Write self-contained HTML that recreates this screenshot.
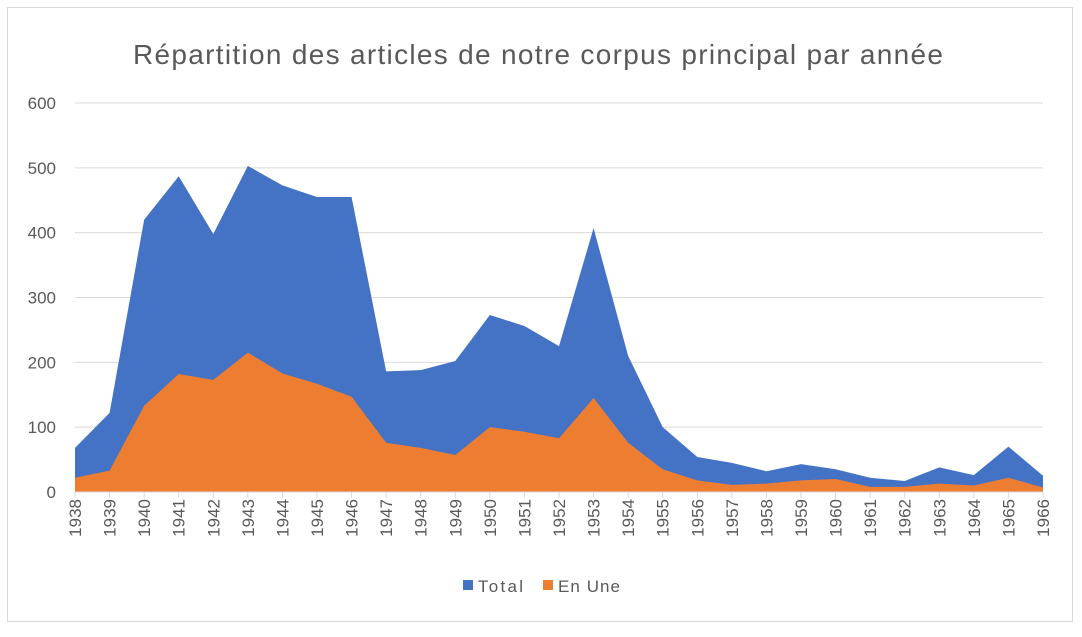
<!DOCTYPE html>
<html><head><meta charset="utf-8"><style>
body{margin:0;background:#fff;font-family:"Liberation Sans",sans-serif;}
svg text{font-family:"Liberation Sans",sans-serif;fill:#595959;}
</style></head><body>
<svg id="chart" width="1082" height="632" xmlns="http://www.w3.org/2000/svg">
<rect x="7.5" y="7.5" width="1065" height="614" fill="#fff" stroke="#d9d9d9"/>
<text x="133" y="64" font-size="28" textLength="810" lengthAdjust="spacing">Répartition des articles de notre corpus principal par année</text>
<g id="grid"></g><g id="areas"></g><g id="yt"></g><g id="xt"></g>
<g>
<rect x="463" y="580" width="10" height="10" fill="#4472c4"/>
<text x="478" y="592" font-size="17" textLength="45">Total</text>
<rect x="543" y="580" width="10" height="10" fill="#ed7d31"/>
<text x="558" y="592" font-size="17" textLength="62">En Une</text>
</g>
</svg>
<script>
const years=[1938,1939,1940,1941,1942,1943,1944,1945,1946,1947,1948,1949,1950,1951,1952,1953,1954,1955,1956,1957,1958,1959,1960,1961,1962,1963,1964,1965,1966];
const totalValues=[68,122,420,487,398,503,473,455,455,186,188,202,273,256,225,407,210,100,54,45,32,43,35,22,17,38,26,70,25];
const enUneValues=[22,33,133,182,173,215,183,167,147,76,68,57,100,93,83,145,76,35,18,11,13,18,20,8,8,13,10,22,7];
const yTicks=[0,100,200,300,400,500,600];
const NS="http://www.w3.org/2000/svg";
const x0=75,x1=1043,y0=492,y1=103;
const xs=i=>x0+(x1-x0)*i/(years.length-1);
const ys=v=>y0-(y0-y1)*v/600;
function el(t,a,p){const e=document.createElementNS(NS,t);for(const k in a)e.setAttribute(k,a[k]);document.getElementById(p).appendChild(e);return e;}
yTicks.forEach(v=>{
 const l=el('line',{x1:x0,x2:x1,y1:ys(v),y2:ys(v),stroke:'#d9d9d9'},'grid');
 
 
 const t=el('text',{x:56,y:ys(v)+6,'text-anchor':'end','font-size':17},'yt');
 t.textContent=v;
 
 
});
function area(vals,color,name){
 let d='M'+xs(0)+','+ys(0);
 vals.forEach((v,i)=>d+='L'+xs(i)+','+ys(v));
 d+='L'+xs(vals.length-1)+','+ys(0)+'Z';
 const p=el('path',{d:d,fill:color},'areas');
 
 
}
area(totalValues,'#4472c4','area-total');
area(enUneValues,'#ed7d31','area-en-une');
years.forEach((y,i)=>{
 const X=xs(i);
 const tk=el('line',{x1:X,x2:X,y1:y0,y2:y0+6,stroke:'#d9d9d9'},'xt');
 
 
 const t=el('text',{x:0,y:0,'text-anchor':'end','font-size':17,transform:'translate('+(X+6)+','+(y0+7)+') rotate(-90)'},'xt');
 t.textContent=y;
 
 
});
const ax=el('line',{x1:x0,x2:x1,y1:y0,y2:y0,stroke:'#d9d9d9'},'xt');


</script>
</body></html>
